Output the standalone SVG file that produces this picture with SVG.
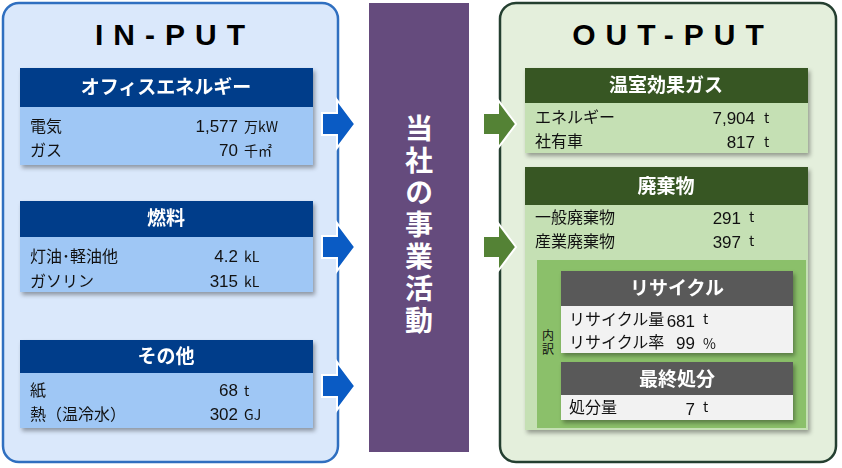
<svg xmlns="http://www.w3.org/2000/svg" width="842" height="468" viewBox="0 0 842 468">
<defs>
<style>
text{font-family:"Noto Sans CJK JP","Liberation Sans",sans-serif;}
.ttl{font-family:"Liberation Sans","Noto Sans CJK JP",sans-serif;font-size:30px;font-weight:bold;fill:#000;text-anchor:middle;letter-spacing:10px}
.hd{font-size:19px;font-weight:bold;fill:#fff;text-anchor:middle}
.tx{font-size:16px;fill:#111}
.num{font-size:17px;fill:#111;text-anchor:end;font-family:"Liberation Sans","Noto Sans CJK JP",sans-serif}
.u{font-size:14px;fill:#111}
.sh{filter:drop-shadow(2px 3px 2px rgba(0,0,0,0.35))}
</style>
</defs>
<rect x="3" y="3" width="335" height="459" rx="16" fill="#dae8fb" stroke="#2f6fc0" stroke-width="2.5"/>
<rect x="500" y="3" width="336" height="459" rx="16" fill="#e4efdc" stroke="#243f30" stroke-width="2.5"/>
<text class="ttl" x="175" y="45">IN-PUT</text>
<text class="ttl" x="673" y="45">OUT-PUT</text>
<g id="center"><rect x="369" y="3" width="100" height="449" fill="#654b7d"/>
<text x="419" y="114" font-size="28" font-weight="bold" fill="#fff" writing-mode="vertical-rl" letter-spacing="4">当社の事業活動</text></g>
<g id="office" class="sh"><rect x="20" y="68" width="293" height="39" fill="#003d8a"/><rect x="20" y="107" width="293" height="58" fill="#9fc7f5"/>
<text class="hd" x="166" y="94">オフィスエネルギー</text>
<text class="tx" x="30" y="132">電気</text><text class="num" x="238" y="132">1,577</text><text class="u" x="244" y="132">万kW</text>
<text class="tx" x="30" y="156">ガス</text><text class="num" x="238" y="156">70</text><text class="u" x="244" y="156">千㎡</text></g>
<g id="fuel" class="sh"><rect x="20" y="201" width="293" height="36" fill="#003d8a"/><rect x="20" y="237" width="293" height="55" fill="#9fc7f5"/>
<text class="hd" x="166" y="225">燃料</text>
<text class="tx" x="30" y="262">灯油･軽油他</text><text class="num" x="238" y="262">4.2</text><text class="u" x="244" y="262">kL</text>
<text class="tx" x="30" y="287">ガソリン</text><text class="num" x="238" y="287">315</text><text class="u" x="244" y="287">kL</text></g>
<g id="other" class="sh"><rect x="20" y="340" width="293" height="33" fill="#003d8a"/><rect x="20" y="373" width="293" height="55" fill="#9fc7f5"/>
<text class="hd" x="166" y="363">その他</text>
<text class="tx" x="30" y="396">紙</text><text class="num" x="238" y="396">68</text><text class="u" x="244" y="396">t</text>
<text class="tx" x="30" y="420">熱（温冷水）</text><text class="num" x="238" y="420">302</text><text class="u" x="244" y="420">GJ</text></g>
<g id="connectors">
<path d="M322,113h15v-13l18,24l-18,24v-13h-15z" fill="#0a5bc4" stroke="#fff" stroke-width="2"/>
<path d="M322,236h15v-13l18,24l-18,24v-13h-15z" fill="#0a5bc4" stroke="#fff" stroke-width="2"/>
<path d="M322,375h15v-13l18,24l-18,24v-13h-15z" fill="#0a5bc4" stroke="#fff" stroke-width="2"/>
<path d="M483,113h15v-13l18,24l-18,24v-13h-15z" fill="#548235" stroke="#fff" stroke-width="2"/>
<path d="M483,236h15v-13l18,24l-18,24v-13h-15z" fill="#548235" stroke="#fff" stroke-width="2"/>
</g>
<g id="ghg" class="sh"><rect x="525" y="68" width="283" height="35" fill="#375623"/><rect x="525" y="103" width="283" height="50" fill="#c5e0b4"/>
<text class="hd" x="666" y="92">温室効果ガス</text>
<text class="tx" x="535" y="123">エネルギー</text><text class="num" x="755" y="124">7,904</text><text class="u" x="764" y="123">t</text>
<text class="tx" x="535" y="147">社有車</text><text class="num" x="755" y="148">817</text><text class="u" x="764" y="147">t</text></g>
<g id="waste" class="sh"><rect x="525" y="167" width="283" height="38" fill="#375623"/><rect x="525" y="205" width="283" height="225" fill="#c5e0b4"/>
<text class="hd" x="666" y="193">廃棄物</text>
<text class="tx" x="535" y="223">一般廃棄物</text><text class="num" x="741" y="224">291</text><text class="u" x="749" y="222">t</text>
<text class="tx" x="535" y="247">産業廃棄物</text><text class="num" x="741" y="248">397</text><text class="u" x="749" y="246">t</text></g>
<g id="breakdown"><rect x="537" y="260" width="269" height="168" fill="#8bc06a"/>
<text x="548" y="340" font-size="12" text-anchor="middle" fill="#111">内</text><text x="548" y="354" font-size="12" text-anchor="middle" fill="#111">訳</text></g>
<g id="recycle" class="sh"><rect x="561" y="271" width="232" height="35" fill="#595959"/><rect x="561" y="306" width="232" height="47" fill="#f2f2f2"/>
<text class="hd" x="677" y="295">リサイクル</text>
<text class="tx" x="569" y="325" font-size="13">リサイクル量</text><text class="num" x="695" y="327">681</text><text class="u" x="703" y="324">t</text>
<text class="tx" x="569" y="348" font-size="13">リサイクル率</text><text class="num" x="695" y="349">99</text><text class="u" x="703" y="349">%</text></g>
<g id="final" class="sh"><rect x="561" y="362" width="232" height="33" fill="#595959"/><rect x="561" y="395" width="232" height="25" fill="#f2f2f2"/>
<text class="hd" x="677" y="386">最終処分</text>
<text class="tx" x="569" y="413" font-size="13">処分量</text><text class="num" x="695" y="415">7</text><text class="u" x="703" y="412">t</text></g>
</svg>
